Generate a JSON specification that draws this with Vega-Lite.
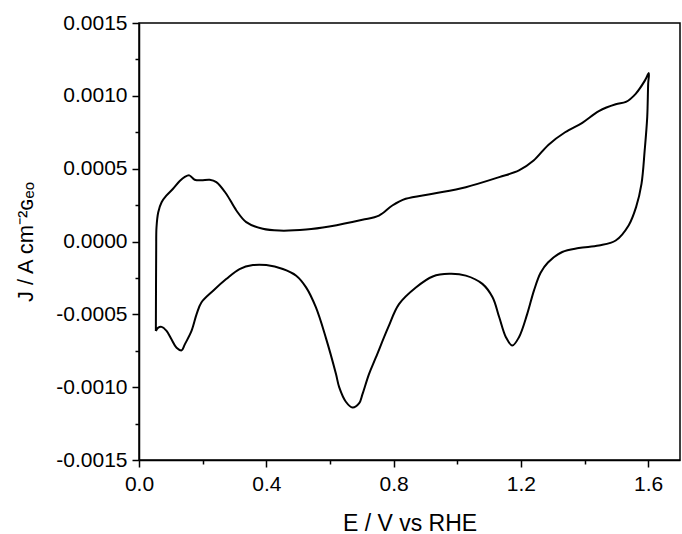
{
  "$schema": "https://vega.github.io/schema/vega-lite/v6.json",
  "autosize": {"type": "none"},
  "width": 541,
  "height": 437,
  "padding": {"left": 139, "top": 23, "right": 2, "bottom": 74},
  "background": "white",
  "config": {
    "view": {"stroke": "black", "strokeWidth": 1.5},
    "font": "Liberation Sans"
  },
  "data": {
    "values": [
      {"i": 1, "E": 0.053, "J": -0.000614},
      {"i": 2, "E": 0.054, "J": -0.00006},
      {"i": 3, "E": 0.055, "J": 0.000098},
      {"i": 4, "E": 0.0605, "J": 0.000201},
      {"i": 5, "E": 0.071, "J": 0.00027},
      {"i": 6, "E": 0.0866, "J": 0.000316},
      {"i": 7, "E": 0.107, "J": 0.000362},
      {"i": 8, "E": 0.128, "J": 0.000415},
      {"i": 9, "E": 0.144, "J": 0.000443},
      {"i": 10, "E": 0.158, "J": 0.000454},
      {"i": 11, "E": 0.165, "J": 0.000443},
      {"i": 12, "E": 0.175, "J": 0.000424},
      {"i": 13, "E": 0.196, "J": 0.00042},
      {"i": 14, "E": 0.222, "J": 0.000424},
      {"i": 15, "E": 0.243, "J": 0.000408},
      {"i": 16, "E": 0.274, "J": 0.000328},
      {"i": 17, "E": 0.306, "J": 0.000213},
      {"i": 18, "E": 0.337, "J": 0.000133},
      {"i": 19, "E": 0.389, "J": 0.000087},
      {"i": 20, "E": 0.441, "J": 0.000075},
      {"i": 21, "E": 0.525, "J": 0.000082},
      {"i": 22, "E": 0.598, "J": 0.000103},
      {"i": 23, "E": 0.702, "J": 0.000149},
      {"i": 24, "E": 0.754, "J": 0.000178},
      {"i": 25, "E": 0.796, "J": 0.000247},
      {"i": 26, "E": 0.838, "J": 0.000293},
      {"i": 27, "E": 0.923, "J": 0.000328},
      {"i": 28, "E": 1.027, "J": 0.000373},
      {"i": 29, "E": 1.132, "J": 0.000442},
      {"i": 30, "E": 1.194, "J": 0.000488},
      {"i": 31, "E": 1.24, "J": 0.000556},
      {"i": 32, "E": 1.287, "J": 0.000665},
      {"i": 33, "E": 1.339, "J": 0.00075},
      {"i": 34, "E": 1.393, "J": 0.000815},
      {"i": 35, "E": 1.445, "J": 0.000895},
      {"i": 36, "E": 1.498, "J": 0.000942},
      {"i": 37, "E": 1.53, "J": 0.000958},
      {"i": 38, "E": 1.56, "J": 0.001012},
      {"i": 39, "E": 1.59, "J": 0.001106},
      {"i": 40, "E": 1.602, "J": 0.001156},
      {"i": 41, "E": 1.6, "J": 0.001083},
      {"i": 42, "E": 1.597, "J": 0.000854},
      {"i": 43, "E": 1.589, "J": 0.000625},
      {"i": 44, "E": 1.579, "J": 0.000396},
      {"i": 45, "E": 1.562, "J": 0.000236},
      {"i": 46, "E": 1.539, "J": 0.000112},
      {"i": 47, "E": 1.498, "J": 0.000007},
      {"i": 48, "E": 1.445, "J": -0.000027},
      {"i": 49, "E": 1.382, "J": -0.000045},
      {"i": 50, "E": 1.33, "J": -0.000072},
      {"i": 51, "E": 1.285, "J": -0.000144},
      {"i": 52, "E": 1.262, "J": -0.000215},
      {"i": 53, "E": 1.241, "J": -0.000337},
      {"i": 54, "E": 1.22, "J": -0.000497},
      {"i": 55, "E": 1.194, "J": -0.000657},
      {"i": 56, "E": 1.173, "J": -0.000714},
      {"i": 57, "E": 1.153, "J": -0.000657},
      {"i": 58, "E": 1.132, "J": -0.00052},
      {"i": 59, "E": 1.111, "J": -0.000383},
      {"i": 60, "E": 1.079, "J": -0.000291},
      {"i": 61, "E": 1.027, "J": -0.000234},
      {"i": 62, "E": 0.975, "J": -0.000222},
      {"i": 63, "E": 0.923, "J": -0.00024},
      {"i": 64, "E": 0.871, "J": -0.000314},
      {"i": 65, "E": 0.817, "J": -0.00043},
      {"i": 66, "E": 0.783, "J": -0.00059},
      {"i": 67, "E": 0.744, "J": -0.000798},
      {"i": 68, "E": 0.723, "J": -0.000909},
      {"i": 69, "E": 0.702, "J": -0.00105},
      {"i": 70, "E": 0.692, "J": -0.00111},
      {"i": 71, "E": 0.671, "J": -0.00114},
      {"i": 72, "E": 0.65, "J": -0.0011},
      {"i": 73, "E": 0.629, "J": -0.001},
      {"i": 74, "E": 0.619, "J": -0.00091},
      {"i": 75, "E": 0.587, "J": -0.00066},
      {"i": 76, "E": 0.556, "J": -0.000453},
      {"i": 77, "E": 0.525, "J": -0.000315},
      {"i": 78, "E": 0.494, "J": -0.000235},
      {"i": 79, "E": 0.452, "J": -0.000189},
      {"i": 80, "E": 0.4, "J": -0.000162},
      {"i": 81, "E": 0.358, "J": -0.000162},
      {"i": 82, "E": 0.316, "J": -0.000189},
      {"i": 83, "E": 0.274, "J": -0.000258},
      {"i": 84, "E": 0.233, "J": -0.000338},
      {"i": 85, "E": 0.196, "J": -0.000419},
      {"i": 86, "E": 0.181, "J": -0.000499},
      {"i": 87, "E": 0.165, "J": -0.000614},
      {"i": 88, "E": 0.144, "J": -0.000706},
      {"i": 89, "E": 0.134, "J": -0.000747},
      {"i": 90, "E": 0.118, "J": -0.000729},
      {"i": 91, "E": 0.102, "J": -0.000671},
      {"i": 92, "E": 0.0866, "J": -0.000614},
      {"i": 93, "E": 0.071, "J": -0.000586},
      {"i": 94, "E": 0.0605, "J": -0.000591},
      {"i": 95, "E": 0.053, "J": -0.000614}
    ]
  },
  "mark": {"type": "line", "color": "black", "strokeWidth": 2, "interpolate": "catmull-rom", "strokeJoin": "round", "clip": true},
  "encoding": {
    "order": {"field": "i", "type": "quantitative"},
    "x": {
      "field": "E", "type": "quantitative",
      "scale": {"domain": [0, 1.7], "nice": false, "zero": false},
      "axis": {
        "title": "E / V vs RHE",
        "values": [0, 0.2, 0.4, 0.6, 0.8, 1.0, 1.2, 1.4, 1.6],
        "labelExpr": "abs(datum.value*2.5 - round(datum.value*2.5)) < 0.000001 ? format(datum.value, '.1f') : ''",
        "grid": false,
        "domainColor": "black", "domainWidth": 1.5,
        "tickColor": "black", "tickWidth": 1.5,
        "tickSize": {"condition": {"test": "abs(datum.value*2.5 - round(datum.value*2.5)) < 0.000001", "value": 7}, "value": 4},
        "labelFont": "Liberation Sans", "labelFontSize": 21, "labelColor": "black", "labelPadding": 6,
        "titleFont": "Liberation Sans", "titleFontSize": 23, "titleFontWeight": "normal", "titleColor": "black", "titlePadding": 18,
        "labelFlush": false
      }
    },
    "y": {
      "field": "J", "type": "quantitative",
      "scale": {"domain": [-0.0015, 0.0015], "nice": false, "zero": false},
      "axis": {
        "title": "J / A cm⁻²ɢₑₒ",
        "values": [-0.0015, -0.00125, -0.001, -0.00075, -0.0005, -0.00025, 0, 0.00025, 0.0005, 0.00075, 0.001, 0.00125, 0.0015],
        "labelExpr": "abs(datum.value*2000 - round(datum.value*2000)) < 0.000001 ? replace(format(datum.value, '.4f'), '−', '-') : ''",
        "grid": false,
        "domainColor": "black", "domainWidth": 1.5,
        "tickColor": "black", "tickWidth": 1.5,
        "tickSize": {"condition": {"test": "abs(datum.value*2000 - round(datum.value*2000)) < 0.000001", "value": 7}, "value": 4},
        "labelFont": "Liberation Sans", "labelFontSize": 21, "labelColor": "black", "labelPadding": 5,
        "titleFont": "Liberation Sans", "titleFontSize": 22, "titleFontWeight": "normal", "titleColor": "black", "titlePadding": 18,
        "labelFlush": false
      }
    }
  }
}
